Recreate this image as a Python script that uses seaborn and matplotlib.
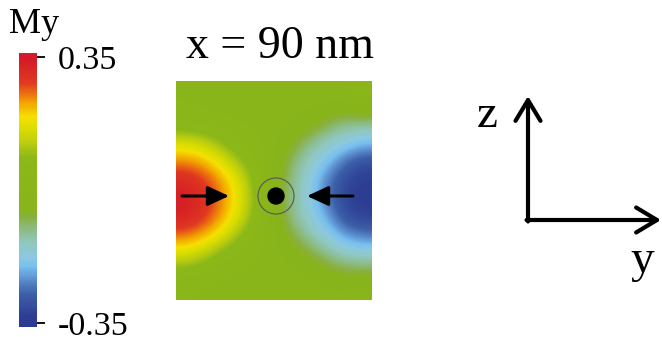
import numpy as np
import matplotlib
matplotlib.use("Agg")
import matplotlib.pyplot as plt
import seaborn as sns
from matplotlib.colors import LinearSegmentedColormap
from matplotlib.patches import Circle

# My component on the y-z plane at x = 90 nm (rows top->bottom, cols left->right)
my_rows = [
    [0.01, 0.00, 0.00, 0.00, 0.00, 0.00, 0.00, 0.00, -0.005, 0.02, 0.045],
    [0.02, 0.015, 0.01, 0.00, 0.00, 0.00, -0.005, -0.015, -0.025, -0.04, -0.015],
    [0.06, 0.05, 0.035, 0.02, 0.01, -0.01, -0.02, -0.045, -0.085, -0.115, -0.125],
    [0.17, 0.15, 0.10, 0.05, 0.03, -0.01, -0.055, -0.11, -0.15, -0.18, -0.21],
    [0.25, 0.23, 0.18, 0.11, 0.05, -0.02, -0.09, -0.15, -0.20, -0.27, -0.31],
    [0.32, 0.29, 0.24, 0.17, 0.07, -0.025, -0.105, -0.17, -0.25, -0.315, -0.335],
    [0.34, 0.31, 0.25, 0.18, 0.08, -0.025, -0.11, -0.17, -0.255, -0.32, -0.34],
    [0.33, 0.29, 0.235, 0.165, 0.065, -0.02, -0.105, -0.16, -0.215, -0.30, -0.32],
    [0.25, 0.225, 0.175, 0.09, 0.04, -0.01, -0.065, -0.125, -0.17, -0.22, -0.25],
    [0.16, 0.125, 0.07, 0.04, 0.02, -0.01, -0.03, -0.06, -0.105, -0.14, -0.15],
    [0.06, 0.05, 0.03, 0.015, 0.00, 0.00, -0.01, -0.02, -0.04, -0.06, -0.065],
    [0.02, 0.01, 0.00, 0.00, 0.00, 0.00, 0.00, 0.00, -0.01, -0.015, 0.01],
]
cbar_ticks = [-0.35, 0.35]
cbar_labels = ["-0.35", "0.35"]
cbar_title = "My"
panel_title = "x = 90 nm"
axis_labels = ["z", "y"]

# colour stops of the scale bar, bottom -> top
stop_pos = [0.0, 0.04, 0.12, 0.17, 0.22, 0.256, 0.305, 0.354, 0.40, 0.43,
            0.62, 0.67, 0.72, 0.768, 0.817, 0.854, 0.89, 0.98, 1.0]
stop_col = ["#2c3a90", "#2e3e94", "#3c60a8", "#5a8ccc", "#78c0f0", "#8cc8e0",
            "#90c8c0", "#8cbc88", "#88b040", "#88b41c", "#8cb818", "#b8cc10",
            "#d8dc00", "#f6e000", "#f2a800", "#ec7010", "#e03a20", "#d41a28",
            "#d41a30"]

sns.set_style("white")
plt.rcParams['font.family'] = ['Liberation Serif', 'DejaVu Serif']
plt.rcParams['axes.unicode_minus'] = False
plt.rcParams['text.color'] = 'black'
plt.rcParams['ytick.color'] = 'black'
plt.rcParams['ytick.labelcolor'] = 'black'

cmap = LinearSegmentedColormap.from_list("my", list(zip(stop_pos, stop_col)))

W, H = 662, 337
fig = plt.figure(figsize=(W / 100, H / 100), dpi=100)

# field map
ax = fig.add_axes([176 / W, 1 - 300 / H, 196 / W, 219 / H])
im = ax.imshow(np.array(my_rows), cmap=cmap, vmin=-0.36, vmax=0.36,
               interpolation='bicubic', aspect='auto')
ax.set_axis_off()

# scale bar
cax = fig.add_axes([19 / W, 1 - 327 / H, 18 / W, 274 / H])
cb = fig.colorbar(im, cax=cax)
cb.outline.set_visible(False)
cb.set_ticks(cbar_ticks)
cb.set_ticklabels(cbar_labels)
cax.tick_params(axis='y', right=True, length=6, width=1.3, color='black',
                labelcolor='black', labelsize=24.5, pad=9)

# overlay in pixel coordinates for annotations
ov = fig.add_axes([0, 0, 1, 1])
ov.set_xlim(0, W)
ov.set_ylim(H, 0)
ov.set_axis_off()
ov.patch.set_alpha(0)

ov.text(9, 33, cbar_title, fontsize=26, ha='left', va='baseline')
ov.text(280, 58, panel_title, fontsize=33, ha='center', va='baseline')

solid = dict(arrowstyle='-|>,head_length=0.65,head_width=0.3', color='black',
             lw=2.2, mutation_scale=20, shrinkA=0, shrinkB=0)
ov.annotate("", xy=(229, 196), xytext=(182, 196), arrowprops=solid)
ov.annotate("", xy=(307, 196), xytext=(353, 196), arrowprops=solid)
ov.add_patch(Circle((276, 196), 18, fill=False, ec='#555555', lw=0.8))
ov.add_patch(Circle((276, 196), 8, color='black'))

# coordinate axes
open_arrow = dict(arrowstyle='->,head_length=0.75,head_width=0.45', color='black',
                  lw=3, mutation_scale=20, shrinkA=0, shrinkB=0)
ov.annotate("", xy=(528, 96), xytext=(528, 221.5), arrowprops=open_arrow)
ov.annotate("", xy=(661, 220), xytext=(526.5, 220), arrowprops=open_arrow)
ov.text(487, 127, axis_labels[0], fontsize=34, ha='center', va='baseline')
ov.text(642, 272, axis_labels[1], fontsize=34, ha='center', va='baseline')

fig.savefig("out.png", dpi=100)
